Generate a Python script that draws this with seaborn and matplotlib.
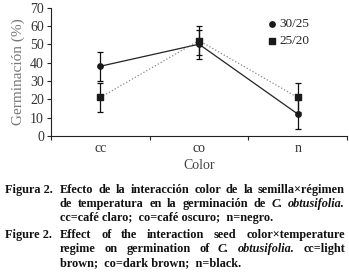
import matplotlib
matplotlib.use("Agg")
import matplotlib.pyplot as plt
import seaborn as sns
import pandas as pd

# datos
colores = ["cc", "co", "n"]
germ_3025 = [38, 50, 12]
err_3025 = [8, 8, 8]
germ_2520 = [21, 52, 21]
err_2520 = [8, 8, 8]
yticks = [0, 10, 20, 30, 40, 50, 60, 70]

sns.set_style("ticks")
plt.rcParams['font.family'] = ['Liberation Serif', 'DejaVu Serif']

df = pd.DataFrame({
    "pos": list(range(len(colores))) * 2,
    "germ": germ_3025 + germ_2520,
    "regimen": ["30/25"] * 3 + ["25/20"] * 3,
})

W, H = 349, 280
fig = plt.figure(figsize=(W / 100, H / 100), dpi=100)
ax = fig.add_axes([51 / W, 1 - 136 / H, 296 / W, 128.5 / H])

sns.lineplot(data=df[df.regimen == "30/25"], x="pos", y="germ", ax=ax,
             color="#222222", lw=0.9, linestyle="-", legend=False)
sns.lineplot(data=df[df.regimen == "25/20"], x="pos", y="germ", ax=ax,
             color="#888888", lw=0.9, linestyle=":", legend=False)
ax.errorbar(range(3), germ_3025, yerr=err_3025, fmt="none", ecolor="#111111",
            elinewidth=0.9, capsize=2.5, capthick=0.9)
ax.errorbar(range(3), germ_2520, yerr=err_2520, fmt="none", ecolor="#111111",
            elinewidth=0.9, capsize=2.5, capthick=0.9)
ax.scatter(range(3), germ_3025, marker="o", s=15, color="#1a1a1a", zorder=5, label="30/25")
ax.scatter(range(3), germ_2520, marker="s", s=17, color="#1a1a1a", zorder=5, label="25/20")

ax.set_xlim(-0.5, 2.5)
ax.set_ylim(0, 70)
ax.set_yticks(yticks)
ax.set_xticks([-0.5, 0.5, 1.5, 2.5])
ax.set_xticklabels([])
ax.set_xticks([0, 1, 2], minor=True)
ax.set_xticklabels(colores, minor=True)
ax.tick_params(axis="x", which="minor", length=0, pad=4, labelsize=10, labelcolor="#333333")
ax.tick_params(axis="x", which="major", length=3, direction="out")
ax.tick_params(axis="y", length=3, labelsize=10, labelcolor="#333333", pad=2)
sns.despine(ax=ax)
for s in ["left", "bottom"]:
    ax.spines[s].set_linewidth(0.8)
    ax.spines[s].set_color("#222222")

ax.set_xlabel("Color", fontsize=10, color="#444444", labelpad=3)
ax.set_ylabel("Germinación (%)", fontsize=11, color="#777777", labelpad=4)

ax.legend(loc="upper right", bbox_to_anchor=(0.9, 0.98), frameon=False, fontsize=9.5,
          handletextpad=0.1, borderaxespad=0.2, labelspacing=0.35, handlelength=1.0)

# pie de figura, justificado palabra por palabra
FS = 8.8
renderer = fig.canvas.get_renderer()


def put(word, x, y, italic=False):
    t = fig.text(x / W, 1 - y / H, word, fontsize=FS, fontweight="bold",
                 style="italic" if italic else "normal", color="#111111", va="baseline")
    return t, t.get_window_extent(renderer).width


def line(words, y, x0=60, x1=345):
    items = [put(w, 0, y, it) for w, it in words]
    total = sum(w for _, w in items)
    gap = (x1 - x0 - total) / (len(items) - 1)
    x = x0
    for t, w in items:
        t.set_x(x / W)
        x += w + gap


def words(s, italic=()):
    return [(w, w in italic) for w in s.split()]


put("Figura 2.", 5, 193)
line(words("Efecto de la interacción color de la semilla×régimen"), 193)
line(words("de temperatura en la germinación de C. obtusifolia.",
           italic=("C.", "obtusifolia.")), 207)
put("cc=café claro;  co=café oscuro;  n=negro.", 60, 221)
put("Figure 2.", 5, 238)
line(words("Effect of the interaction seed color×temperature"), 238)
line(words("regime on germination of C. obtusifolia. cc=light",
           italic=("C.", "obtusifolia.")), 252)
put("brown;  co=dark brown;  n=black.", 60, 266)

fig.savefig("out.png", dpi=100)
